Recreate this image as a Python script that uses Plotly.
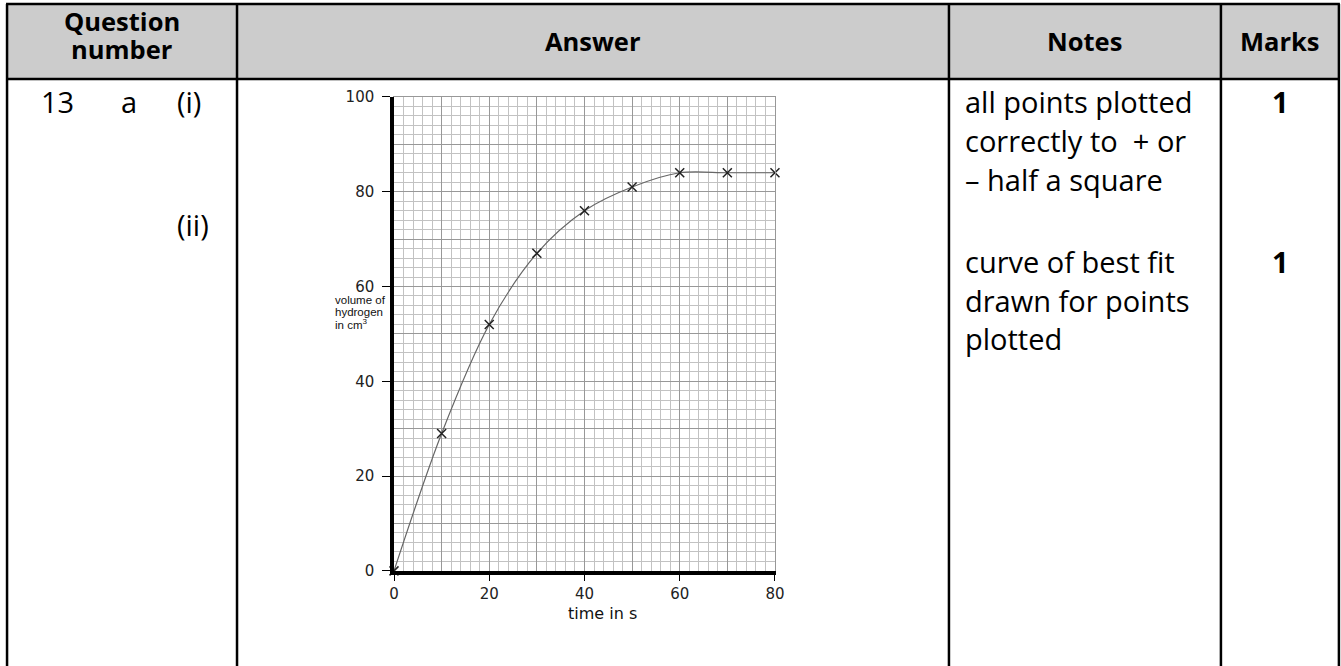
import plotly.graph_objects as go

# ---- data ----
time_s = [0, 10, 20, 30, 40, 50, 60, 70, 80]
volume_cm3 = [0, 29, 52, 67, 76, 81, 84, 84, 84]
x_ticks = [0, 20, 40, 60, 80]
y_ticks = [0, 20, 40, 60, 80, 100]

header_q = ["Question", "number"]
headers = ["Answer", "Notes", "Marks"]
notes_1 = ["all points plotted", "correctly to  + or", "– half a square"]
notes_2 = ["curve of best fit", "drawn for points", "plotted"]
marks = ["1", "1"]
y_label = ["volume of", "hydrogen", "in cm<sup>3</sup>"]

# The photographed region is slightly larger than the page and offset;
# compensate so that layout positions (in target pixels) land where intended.
SX, SY = 0.989, 0.9735
OX, OY = 4.0, 9.3
FW, FH = 1352, 676

def px(x):
    return (x / SX - OX) / FW
def py(y):
    return 1 - (y / SY - OY) / FH

# column borders (target pixels)
cols = [6, 236, 948, 1220, 1338]
top, head_bot = 4, 79

fig = go.Figure()

fig.add_trace(go.Scatter(
    x=time_s, y=volume_cm3, mode="lines",
    line=dict(color="#666666", width=1.2, shape="spline", smoothing=0.9),
    xaxis="x", yaxis="y", hoverinfo="skip", showlegend=False, cliponaxis=False,
))
fig.add_trace(go.Scatter(
    x=time_s, y=volume_cm3, mode="markers",
    marker=dict(symbol="x-thin", size=9, line=dict(color="#222222", width=1.5)),
    xaxis="x", yaxis="y", showlegend=False, cliponaxis=False,
))

x0p, x1p = px(393), px(774)
y0p, y1p = py(571), py(97)

grid_major = "#989898"
grid_minor = "#c2c2c2"
tfont = dict(family="DejaVu Sans", size=15, color="#222")

fig.update_layout(
    width=FW, height=FH, margin=dict(l=0, r=0, t=0, b=0),
    paper_bgcolor="white", plot_bgcolor="white",
    xaxis=dict(domain=[x0p, x1p], range=[0, 80], dtick=10, showgrid=True,
               gridcolor=grid_major, gridwidth=1, showticklabels=False, ticks="",
               zeroline=False, showline=True, linecolor=grid_major, mirror=True,
               minor=dict(dtick=2, showgrid=True, gridcolor=grid_minor, gridwidth=1),
               anchor="y"),
    yaxis=dict(domain=[y0p, y1p], range=[0, 100], dtick=10, showgrid=True,
               gridcolor=grid_major, gridwidth=1, showticklabels=False, ticks="",
               zeroline=False, showline=True, linecolor=grid_major, mirror=True,
               minor=dict(dtick=2, showgrid=True, gridcolor=grid_minor, gridwidth=1),
               anchor="x"),
    xaxis2=dict(overlaying="x", range=[0, 80], tickvals=x_ticks, ticks="outside",
                ticklen=6, tickcolor="black", showgrid=False, zeroline=False,
                showline=True, linecolor="black", linewidth=3.5, anchor="y2",
                ticklabelstandoff=0, tickfont=tfont),
    yaxis2=dict(overlaying="y", range=[0, 100], tickvals=y_ticks, ticks="outside",
                ticklen=8, tickcolor="black", showgrid=False, zeroline=False,
                showline=True, linecolor="black", linewidth=3.5, anchor="x2",
                ticklabelstandoff=5, tickfont=tfont),
)
fig.add_trace(go.Scatter(x=[None], y=[None], xaxis="x2", yaxis="y2",
                         showlegend=False, hoverinfo="skip"))

shapes = []
shapes.append(dict(type="rect", xref="paper", yref="paper",
                   x0=px(cols[0]), x1=px(cols[-1]), y0=py(head_bot), y1=py(top),
                   fillcolor="#cccccc", line=dict(width=0), layer="below"))
for yy in (top, head_bot):
    shapes.append(dict(type="line", xref="paper", yref="paper",
                       x0=px(cols[0] - 1), x1=px(cols[-1] + 1), y0=py(yy), y1=py(yy),
                       line=dict(color="black", width=2.5)))
for xx in cols:
    shapes.append(dict(type="line", xref="paper", yref="paper",
                       x0=px(xx), x1=px(xx), y0=py(top), y1=py(672),
                       line=dict(color="black", width=2.5)))
fig.update_layout(shapes=shapes)

ann = []
def add(x, y, text, font, xanchor="left", **kw):
    ann.append(dict(x=px(x), y=py(y), xref="paper", yref="paper", text=text,
                    showarrow=False, font=font, xanchor=xanchor, yanchor="middle", **kw))

hfont = dict(family="Open Sans", size=25.5, color="black", weight="bold")
centers = [(cols[i] + cols[i + 1]) / 2 for i in range(4)]
add(centers[0], 21, header_q[0], hfont, "center")
add(centers[0], 49, header_q[1], hfont, "center")
for c, t in zip(centers[1:], headers):
    add(c, 41, t, hfont, "center")

bfont = dict(family="Open Sans", size=29, color="black")
add(38, 102, "13", bfont)
add(118, 102, "a", bfont)
add(174, 102, "(i)", bfont)
add(174, 225, "(ii)", bfont)

for yy, t in zip((102, 141, 180), notes_1):
    add(962, yy, t, bfont)
for yy, t in zip((262, 301, 339), notes_2):
    add(962, yy, t, bfont)
mfont = dict(family="Open Sans", size=29, color="black", weight="bold")
for yy, t in zip((102, 262), marks):
    add(1280, yy, t, mfont, "center")

lfont = dict(family="Liberation Sans", size=11.5, color="#111")
for yy, t in zip((300, 312, 324), y_label):
    add(332, yy, t, lfont)
add(602, 614, "time in s", dict(family="DejaVu Sans", size=16, color="#111"), "center")
fig.update_layout(annotations=ann)

fig.write_html("out.html", config={"displayModeBar": False},
               post_script="document.body.style.margin='0';document.body.style.overflow='hidden';")
